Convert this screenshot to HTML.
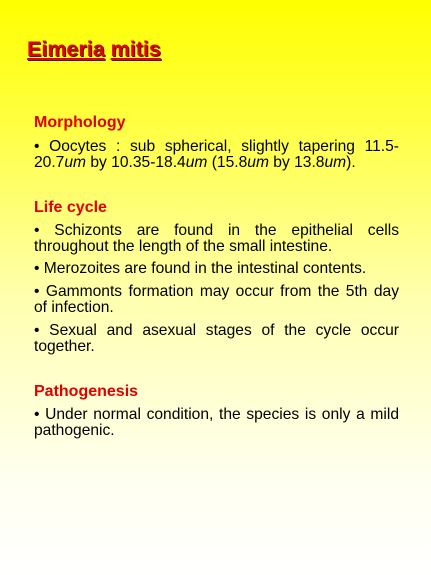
<!DOCTYPE html>
<html><head><meta charset="utf-8"><style>
html,body{margin:0;padding:0}
body{width:431px;height:575px;position:relative;overflow:hidden;background:linear-gradient(to bottom,#ffff00 0px,#ffff40 120px,#ffffb0 300px,#fffff0 480px,#ffffff 575px);font-family:"Liberation Sans",sans-serif}
.t{position:absolute;left:27px;top:37px;font-size:21.5px;font-weight:bold;color:#e00000;text-shadow:1px 1px 0 #402000;}
.t u{text-decoration:underline}
.h{position:absolute;left:34px;font-size:16px;font-weight:bold;color:#e00000;line-height:18px}
.p{position:absolute;left:34px;width:365px;font-size:15.6px;line-height:15.5px;color:#000;text-align:justify;text-align-last:left}
</style></head><body>
<div class="t"><u>Eimeria</u> <u>mitis</u></div>
<div class="h" style="top:114px">Morphology</div>
<div class="p" style="top:139px">• Oocytes : sub spherical, slightly tapering 11.5-20.7<i>um</i> by 10.35-18.4<i>um</i> (15.8<i>um</i> by 13.8<i>um</i>).</div>
<div class="h" style="top:199px">Life cycle</div>
<div class="p" style="top:223px">• Schizonts are found in the epithelial cells throughout the length of the small intestine.</div>
<div class="p" style="top:261px">• Merozoites are found in the intestinal contents.</div>
<div class="p" style="top:284px">• Gammonts formation may occur from the 5th day of infection.</div>
<div class="p" style="top:323px">• Sexual and asexual stages of the cycle occur together.</div>
<div class="h" style="top:383px">Pathogenesis</div>
<div class="p" style="top:407px">• Under normal condition, the species is only a mild pathogenic.</div>
</body></html>
